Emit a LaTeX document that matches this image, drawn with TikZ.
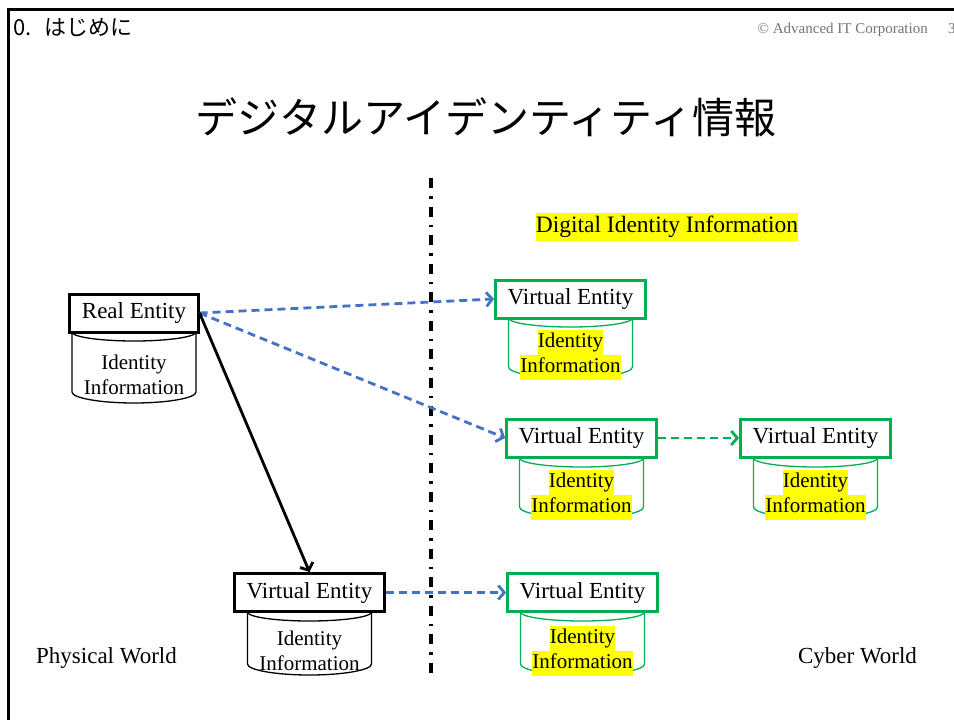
\documentclass[tikz,border=0pt]{standalone}
\usepackage{fontspec}
\setmainfont{Liberation Serif}
\newfontfamily\jpfont{Noto Sans CJK JP}
\usetikzlibrary{positioning, arrows.meta}

\definecolor{linkblue}{HTML}{4472C4}
\definecolor{cybergreen}{HTML}{00B050}
\definecolor{markyellow}{HTML}{FFFF00}

% yellow marker behind one line of text
\newcommand{\marked}[1]{{\setlength{\fboxsep}{0pt}\colorbox{markyellow}{\strut #1}}}

% cylinder under an entity box: name, colour, centre x, top y, bottom y, text
\newcommand{\idstore}[6]{%
	\draw[#2, line width=1.3pt]
		(#3-62,#4) -- (#3-62,#5-11)
		.. controls (#3-62,#5-5) and (#3-34,#5) .. (#3,#5)
		.. controls (#3+34,#5) and (#3+62,#5-5) .. (#3+62,#5-11)
		-- (#3+62,#4);
	\draw[#2, line width=1.3pt]
		(#3-62,#4) .. controls (#3-62,#4+5) and (#3-34,#4+9) .. (#3,#4+9)
		.. controls (#3+34,#4+9) and (#3+62,#4+5) .. (#3+62,#4);
	\node[infotext] (#1) at (#3,{(#4+#5)/2+7}) {#6};
}

\tikzset{
	entity/.style={draw, line width=3pt, fill=white, inner xsep=12pt, inner ysep=0pt,
		minimum height=38pt, font=\fontsize{23}{27}\selectfont},
	realbox/.style={entity, draw=black},
	cyberbox/.style={entity, draw=cybergreen},
	infotext/.style={align=center, inner sep=0pt, font=\fontsize{21}{25}\selectfont},
	worldtext/.style={inner sep=0pt, font=\fontsize{23}{27}\selectfont},
	link/.style={line width=2.8pt, -{Straight Barb[length=6pt, width=14pt]}},
	bluelink/.style={link, linkblue, dash pattern=on 8pt off 5pt},
	greenlink/.style={link, cybergreen, dash pattern=on 8pt off 5pt}
}

\begin{document}
\begin{tikzpicture}[x=1pt, y=-1pt]
		\useasboundingbox (0,0) rectangle (954,720);
		
		% slide frame and header
		\draw[line width=2.8pt] (8.5,720) -- (8.5,9.5) -- (954,9.5);
		\node[anchor=west, inner sep=0pt, font=\jpfont\fontsize{22}{25}\selectfont] (chapter) at (13,28) {0.\hspace{0.6em}はじめに};
		\node[anchor=base east, inner sep=0pt, text=black!55, font=\fontsize{15}{17}\selectfont] (copyright) at (928,33) {© Advanced IT Corporation};
		\node[anchor=base west, inner sep=0pt, text=black!55, font=\fontsize{15}{17}\selectfont] (pageno) at (948,33) {3};
		\node[inner sep=0pt, font=\jpfont\fontsize{42}{48}\selectfont] (title) at (486,117) {デジタルアイデンティティ情報};
		
		% border between the two worlds
		\coordinate (top) at (431,178);
		\coordinate (bottom) at (431,678);
		\draw[line width=3.2pt, dash pattern=on 10pt off 8pt on 2.5pt off 8pt] (top) -- (bottom);
		
		\node[worldtext] (physical) at (106.5,658) {Physical World};
		\node[worldtext] (cyber) at (857.5,658) {Cyber World};
		\node[worldtext, font=\fontsize{23.5}{28}\selectfont] (digital) at (667,227) {\marked{Digital Identity Information}};
		
		% real entity
		\idstore{reinfo}{black}{134}{332}{403}{Identity\\Information}
		\node[realbox] (re) at (134,313) {Real Entity};
		
		% virtual entities
		\idstore{veinfoA}{cybergreen}{570.5}{318}{378}{\marked{Identity}\\\marked{Information}}
		\node[cyberbox] (veA) at (570.5,299) {Virtual Entity};
		
		\idstore{veinfoB}{cybergreen}{581.5}{458}{518}{\marked{Identity}\\\marked{Information}}
		\node[cyberbox] (veB) at (581.5,438) {Virtual Entity};
		
		\idstore{veinfoC}{cybergreen}{815.5}{458}{518}{\marked{Identity}\\\marked{Information}}
		\node[cyberbox] (veC) at (815.5,438) {Virtual Entity};
		
		\idstore{veinfoD}{black}{309.5}{612}{675}{Identity\\Information}
		\node[realbox] (veD) at (309.5,592.5) {Virtual Entity};
		
		\idstore{veinfoE}{cybergreen}{582.5}{612}{675}{\marked{Identity}\\\marked{Information}}
		\node[cyberbox] (veE) at (582.5,592.5) {Virtual Entity};
		
		% links
		\draw[bluelink] (re.east) -- (veA.west);
		\draw[bluelink] (re.east) -- (veB.west);
		\draw[link] (re.east) -- (veD.north);
		\draw[greenlink] (veB.east) -- (veC.west);
		\draw[bluelink] (veD.east) -- (veE.west);
\end{tikzpicture}
\end{document}
